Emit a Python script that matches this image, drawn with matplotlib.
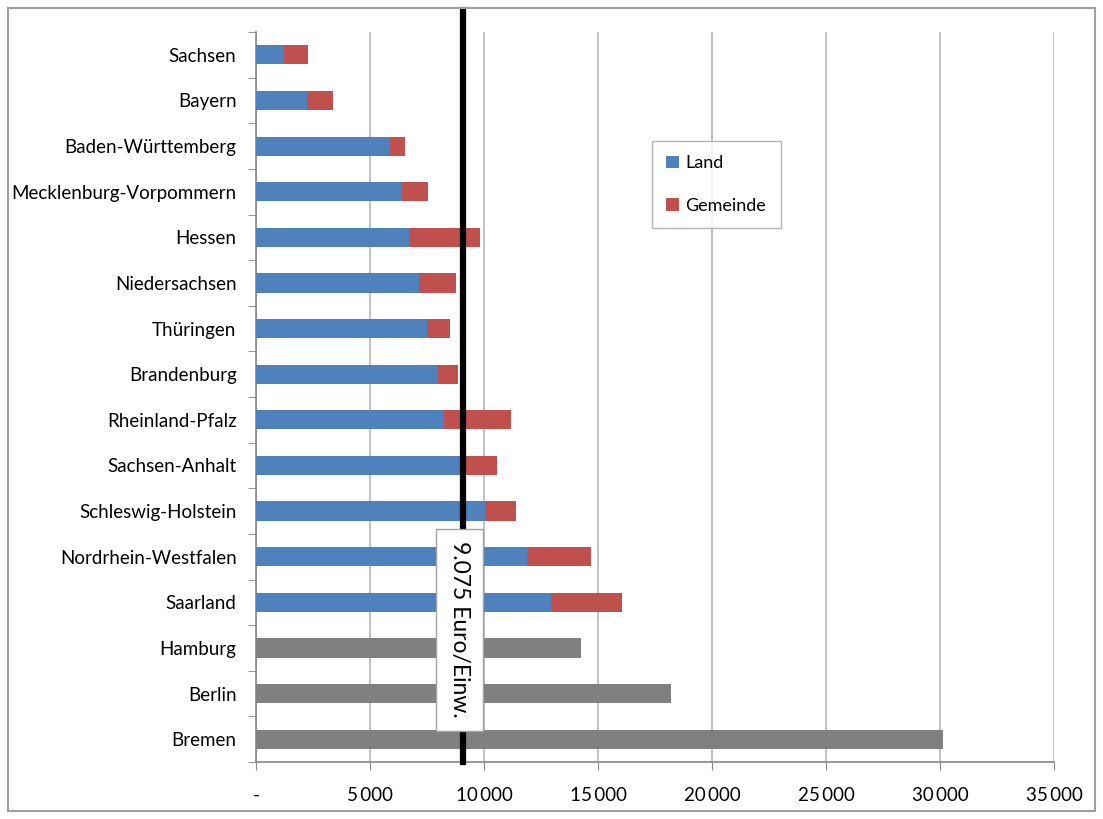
import matplotlib.pyplot as plt
import matplotlib.ticker as mticker
from matplotlib.patches import Rectangle

# Länder (Flächenländer) mit Anteil Land und Gemeinde, Euro je Einwohner
flaechenlaender = ['Sachsen', 'Bayern', 'Baden-Württemberg', 'Mecklenburg-Vorpommern',
                   'Hessen', 'Niedersachsen', 'Thüringen', 'Brandenburg',
                   'Rheinland-Pfalz', 'Sachsen-Anhalt', 'Schleswig-Holstein',
                   'Nordrhein-Westfalen', 'Saarland']
land = [1240, 2250, 5880, 6390, 6710, 7160, 7480, 7980, 8260, 8950, 10060, 11890, 12940]
gemeinde = [1050, 1130, 660, 1170, 3100, 1620, 1030, 890, 2910, 1610, 1360, 2810, 3130]

# Stadtstaaten (nur ein Wert)
stadtstaaten = ['Hamburg', 'Berlin', 'Bremen']
stadt_werte = [14240, 18190, 30130]

durchschnitt = 9075  # Durchschnitt Euro/Einw.

plt.rcParams['font.family'] = ['Lato', 'DejaVu Sans']

fig = plt.figure(figsize=(11.03, 8.19), dpi=100)
ax = fig.add_axes([0.2321, 0.0696, 0.7235, 0.8913])

blau = '#4F81BD'
rot = '#C0504D'
grau = '#808080'
h = 0.42

pos_fl = list(range(len(flaechenlaender)))
pos_st = list(range(len(flaechenlaender), len(flaechenlaender) + len(stadtstaaten)))

ax.barh(pos_fl, land, height=h, color=blau, label='Land', zorder=3)
ax.barh(pos_fl, gemeinde, left=land, height=h, color=rot, label='Gemeinde', zorder=3)
ax.barh(pos_st, stadt_werte, height=h, color=grau, zorder=3)

alle = flaechenlaender + stadtstaaten
ax.set_yticks(pos_fl + pos_st)
ax.set_yticklabels(alle, fontsize=13.5)
ax.set_yticks([i - 0.5 for i in range(len(alle) + 1)], minor=True)
ax.tick_params(axis='y', which='major', length=0, pad=14)
ax.tick_params(axis='y', which='minor', length=6, color='#868686', direction='out')
ax.set_ylim(len(alle) - 0.5, -0.5)

ax.set_xlim(0, 35000)
ax.set_xticks(range(0, 35001, 5000))
ax.xaxis.set_major_formatter(mticker.FuncFormatter(
    lambda v, p: '-' if v == 0 else f'{int(v):,}'.replace(',', '\u2009')))
ax.tick_params(axis='x', length=6, color='#868686', labelsize=13.5, pad=12)

ax.grid(axis='x', color='#B8B8B8', linewidth=1.2, zorder=0)
for s in ['top', 'right']:
    ax.spines[s].set_visible(False)
for s in ['left', 'bottom']:
    ax.spines[s].set_color('#868686')
    ax.spines[s].set_linewidth(1.2)

# Durchschnittslinie
ax.axvline(durchschnitt, ymin=0, ymax=1.03, color='black', linewidth=4.5,
           zorder=4, clip_on=False)
ax.text(durchschnitt - 150, 12.6, '9.075 Euro/Einw.', rotation=-90, fontsize=16.5,
        ha='center', va='center', zorder=6,
        bbox=dict(boxstyle='square,pad=0.55', facecolor='white', edgecolor='#A0A0A0'))

leg = fig.legend(loc='upper left', bbox_to_anchor=(652 / 1103, 1 - 141 / 819),
                 fontsize=13, frameon=True, fancybox=False, handlelength=0.7,
                 handleheight=0.7, labelspacing=1.45, borderpad=0.8, handletextpad=0.35,
                 borderaxespad=0)
leg.get_frame().set_edgecolor('#A0A0A0')
leg.get_frame().set_linewidth(1.0)

# Rahmen um das Diagramm
fig.patches.append(Rectangle((8 / 1103, 8 / 819), 1 - 16 / 1103, 1 - 16 / 819,
                             transform=fig.transFigure, fill=False,
                             edgecolor='#A0A0A0', linewidth=1.5))

plt.savefig('out.png', dpi=100)
